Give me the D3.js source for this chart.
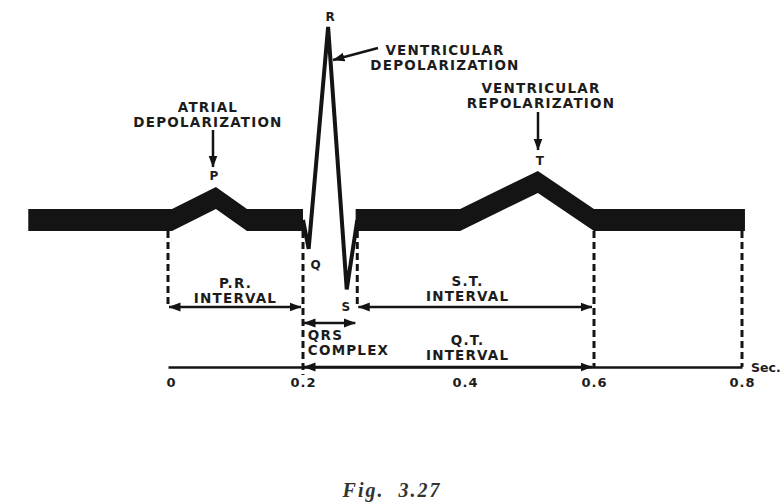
<!DOCTYPE html>
<html><head><meta charset="utf-8">
<script src="https://cdn.jsdelivr.net/npm/d3@7"></script>
<style>
html,body{margin:0;padding:0;background:#fff;}
svg{display:block;}
</style></head><body>
<svg id="c" width="782" height="502"></svg>
<script>
// ---------- data ----------
const timeTicks = [0, 0.2, 0.4, 0.6, 0.8];
const tickLabels = ["0", "0.2", "0.4", "0.6", "0.8"];
// thick trace before QRS (baseline + P wave)
const preTimes = [-0.207, 0.006, 0.071, 0.117, 0.2];
const preValues = [0, 0, 0.114, 0, 0];
// thin QRS trace
const qrsTimes = [0.2, 0.207, 0.231, 0.254, 0.267];
const qrsValues = [0, -0.15, 1.0, -0.36, 0];
const qrsNames = ["", "Q", "R", "S", ""];
// thick trace after QRS (ST segment + T wave)
const postTimes = [0.265, 0.394, 0.513, 0.6, 0.804];
const postValues = [0, 0, 0.197, 0, 0];
// intervals
const intervalLine1 = ["P.R.", "S.T.", "QRS", "Q.T."];
const intervalLine2 = ["INTERVAL", "INTERVAL", "COMPLEX", "INTERVAL"];
const intervalStart = [0, 0.267, 0.2, 0.2];
const intervalEnd = [0.2, 0.6, 0.267, 0.6];
const dashTimes = [0, 0.2, 0.267, 0.6, 0.8];

// ---------- layout ----------
const svg = d3.select("#c");
const FONT = "'DejaVu Sans', Verdana, sans-serif";
const x = d3.scaleLinear().domain(timeTicks).range([168, 303, 465, 594, 742]);
const y = d3.scaleLinear().domain([0, 1]).range([220, 27]);
const half = 11;
const axisY = 367, rowA = 307, rowB = 323;
const ink = "#141414", txt = "#1c1c1c";

function label(sel, size) {
  return sel.style("font-family", FONT).style("font-weight", "bold")
    .style("font-size", size + "px").style("fill", txt);
}

const defs = svg.append("defs");
defs.append("marker").attr("id", "ah")
  .attr("markerUnits", "userSpaceOnUse")
  .attr("viewBox", "0 0 12 10").attr("markerWidth", 12).attr("markerHeight", 10)
  .attr("refX", 11.5).attr("refY", 5).attr("orient", "auto-start-reverse")
  .append("path").attr("d", "M0,0.5 L12,5 L0,9.5 Z").attr("fill", ink);

// dashed guides
const dashBottom = [rowA - 2, axisY + 8, rowA - 2, axisY, axisY];
svg.append("g").selectAll("line").data(dashTimes).join("line")
  .attr("x1", d => x(d)).attr("x2", d => x(d))
  .attr("y1", y(0) + half).attr("y2", (d, i) => dashBottom[i])
  .attr("stroke", ink).attr("stroke-width", 3).attr("stroke-dasharray", "7,4");

// thick band
const band = d3.area().x(d => x(d[0])).y0(d => y(d[1]) + half).y1(d => y(d[1]) - half);
svg.append("path").datum(d3.zip(preTimes, preValues)).attr("d", band).attr("fill", ink);
svg.append("path").datum(d3.zip(postTimes, postValues)).attr("d", band).attr("fill", ink);

// thin QRS
const line = d3.line().x(d => x(d[0])).y(d => y(d[1]));
svg.append("path").datum(d3.zip(qrsTimes, qrsValues)).attr("d", line)
  .attr("fill", "none").attr("stroke", ink).attr("stroke-width", 4)
  .attr("stroke-linejoin", "miter").attr("stroke-miterlimit", 3);

// axis
const axis = d3.axisBottom(x).tickValues(timeTicks)
  .tickFormat((d, i) => tickLabels[i]).tickSize(0).tickSizeOuter(0).tickPadding(11);
const ga = svg.append("g").attr("transform", `translate(0,${axisY})`).call(axis);
ga.select(".domain").attr("stroke", ink).attr("stroke-width", 2.5);
label(ga.selectAll("text"), 13).style("letter-spacing", "1px");
ga.selectAll(".tick").filter(d => d === 0).select("text").attr("dx", 3);
label(svg.append("text"), 12.5).attr("x", 751).attr("y", axisY + 5).text("Sec.");

// interval arrows
const rowY = [rowA, rowA, rowB, axisY];
svg.append("g").selectAll("line").data(intervalStart).join("line")
  .attr("x1", d => x(d) + 1).attr("x2", (d, i) => x(intervalEnd[i]) - 2)
  .attr("y1", (d, i) => rowY[i]).attr("y2", (d, i) => rowY[i])
  .attr("stroke", ink).attr("stroke-width", 2.5)
  .attr("marker-start", "url(#ah)").attr("marker-end", "url(#ah)");

// interval labels
const fs = 13.5, ls = "1.2px";
const labAnchorT = [0.1, 0.404, 0.206, 0.404];
const labAlign = ["middle", "middle", "start", "middle"];
const labBase1 = [288, 286, 340, 345];
intervalLine1.forEach((t, i) => {
  const g = label(svg.append("text"), fs).style("letter-spacing", ls)
    .attr("text-anchor", labAlign[i]);
  g.append("tspan").attr("x", x(labAnchorT[i])).attr("y", labBase1[i]).text(t);
  g.append("tspan").attr("x", x(labAnchorT[i])).attr("y", labBase1[i] + 14.5).text(intervalLine2[i]);
});

// wave point letters
const letterDx = [0, 7, 2, -1, 0], letterDy = [0, 20, -6, 22, 0];
qrsNames.forEach((n, i) => {
  if (!n) return;
  label(svg.append("text"), 12).attr("x", x(qrsTimes[i]) + letterDx[i])
    .attr("y", y(qrsValues[i]) + letterDy[i]).attr("text-anchor", "middle").text(n);
});
label(svg.append("text"), 12).attr("x", x(preTimes[2]) - 2).attr("y", 180)
  .attr("text-anchor", "middle").text("P");
label(svg.append("text"), 12).attr("x", x(postTimes[2]) + 2).attr("y", 165)
  .attr("text-anchor", "middle").text("T");

// annotation blocks
function block(cx, yb, lines) {
  const t = label(svg.append("text"), fs).style("letter-spacing", ls).attr("text-anchor", "middle");
  lines.forEach((l, i) => t.append("tspan").attr("x", cx).attr("y", yb + i * 14.5).text(l));
}
block(208, 112, ["ATRIAL", "DEPOLARIZATION"]);
block(445, 55, ["VENTRICULAR", "DEPOLARIZATION"]);
block(541, 93, ["VENTRICULAR", "REPOLARIZATION"]);

// pointer arrows
const ptr = [[213, 130, 213, 167], [378, 48, 333, 60], [538, 112, 538, 150]];
svg.append("g").selectAll("line").data(ptr).join("line")
  .attr("x1", d => d[0]).attr("y1", d => d[1]).attr("x2", d => d[2]).attr("y2", d => d[3])
  .attr("stroke", ink).attr("stroke-width", 2.5).attr("marker-end", "url(#ah)");

// caption
svg.append("text").attr("x", 392).attr("y", 497).attr("text-anchor", "middle")
  .style("font-family", "'Liberation Serif', 'Times New Roman', serif").style("font-style", "italic")
  .style("font-weight", "bold").style("font-size", "20px").style("letter-spacing", "2px")
  .style("fill", "#333").style("white-space", "pre").text("Fig.  3.27");
</script>
</body></html>
